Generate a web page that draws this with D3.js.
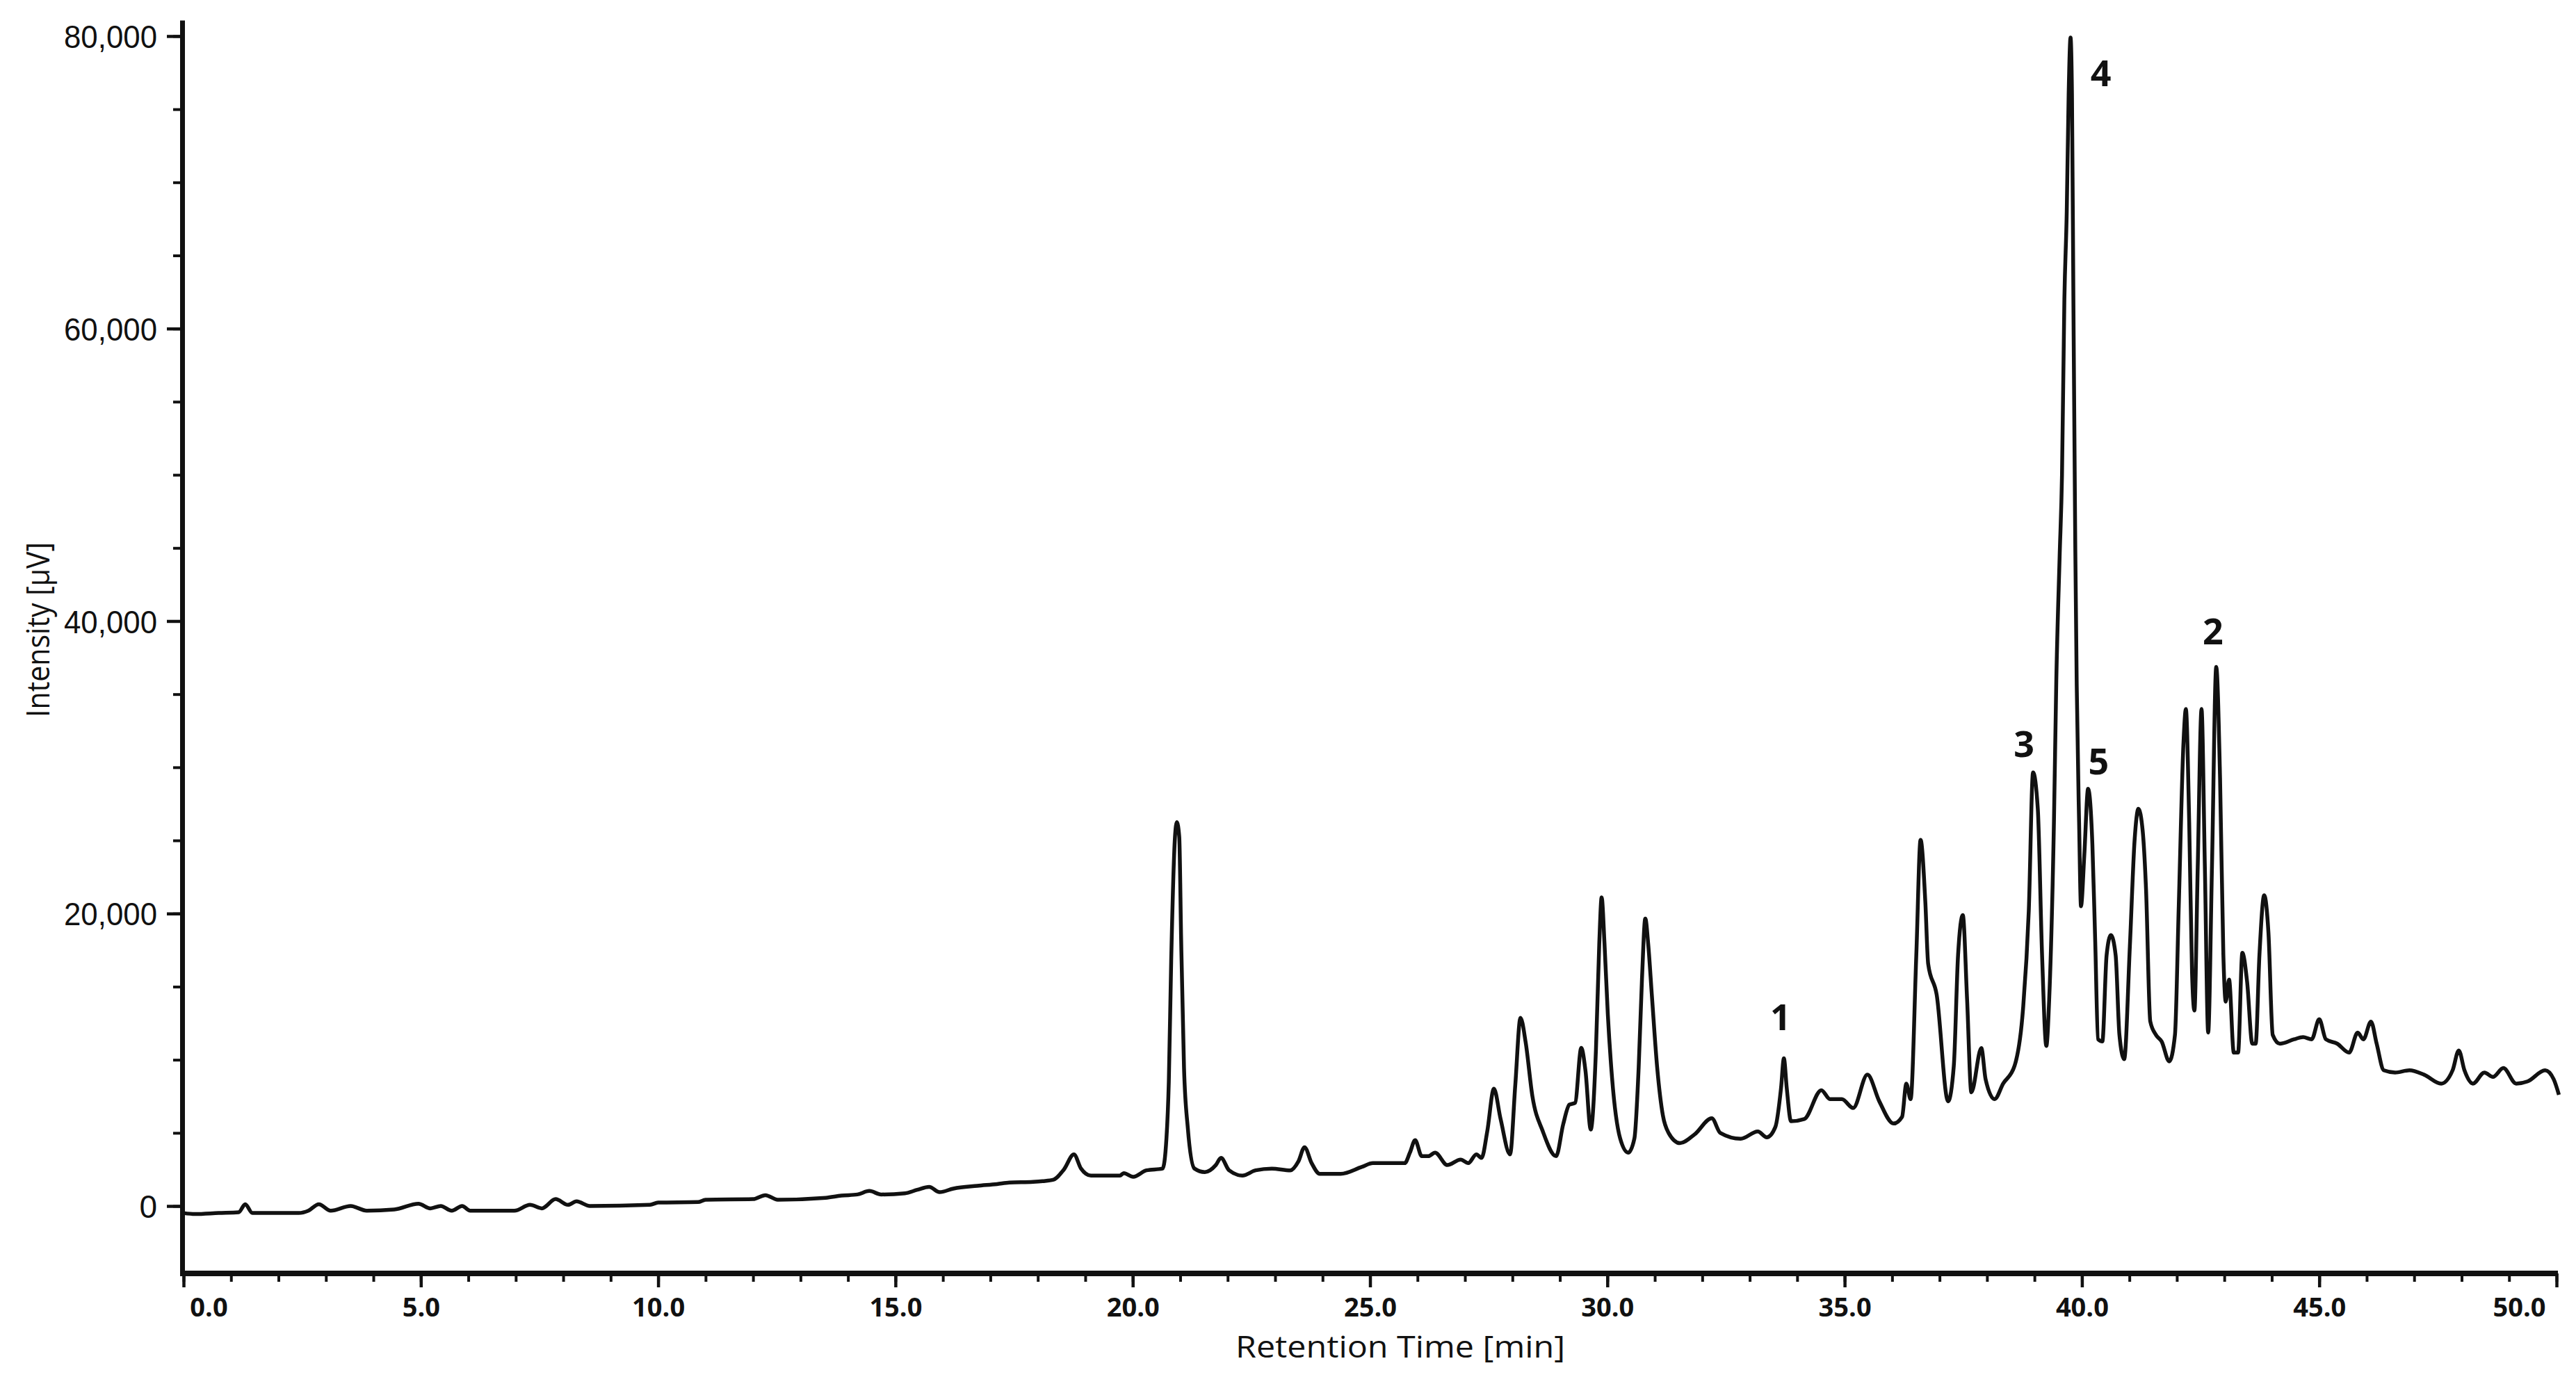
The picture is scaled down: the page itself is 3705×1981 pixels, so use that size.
<!DOCTYPE html>
<html><head><meta charset="utf-8">
<script src="https://cdn.jsdelivr.net/npm/d3@7"></script>
<style>html,body{margin:0;padding:0;background:#fff;}svg{display:block;}</style>
</head><body>
<script>
// ---- data ----
const retentionTime = [0.0,0.24,0.74,1.16,1.3,1.45,2.43,2.63,2.85,3.1,3.52,3.86,4.44,4.95,5.2,5.42,5.65,5.87,6.04,6.97,7.3,7.55,7.84,8.1,8.28,8.56,9.83,10.0,10.84,11.0,12.0,12.26,12.52,13.53,13.86,14.2,14.45,14.7,15.2,15.46,15.71,15.93,16.22,16.72,17.14,17.4,17.9,18.1,18.33,18.55,18.76,18.91,19.12,19.73,19.81,20.01,20.29,20.63,20.71,20.76,20.81,20.89,20.93,20.98,21.02,21.08,21.16,21.3,21.52,21.75,21.86,22.03,22.31,22.59,22.93,23.32,23.49,23.62,23.77,23.94,24.38,24.83,25.06,25.5,25.73,25.84,25.95,26.09,26.23,26.37,26.63,26.91,27.07,27.24,27.35,27.47,27.61,27.75,27.95,28.06,28.17,28.28,28.42,28.64,28.92,29.07,29.2,29.32,29.45,29.54,29.65,29.76,29.83,29.88,29.94,30.01,30.1,30.27,30.44,30.57,30.66,30.73,30.8,30.86,30.94,31.05,31.17,31.29,31.53,31.84,32.2,32.38,32.81,33.17,33.36,33.54,33.66,33.72,33.78,33.87,34.15,34.51,34.69,34.94,35.18,35.48,35.73,36.03,36.21,36.3,36.39,36.51,36.6,36.7,36.76,36.94,37.18,37.3,37.39,37.49,37.58,37.67,37.88,37.97,38.16,38.34,38.58,38.76,38.88,38.97,39.07,39.16,39.25,39.31,39.41,39.46,39.53,39.58,39.63,39.68,39.72,39.76,39.79,39.82,39.86,39.89,39.94,39.98,40.05,40.13,40.22,40.28,40.34,40.43,40.52,40.61,40.71,40.79,40.89,41.01,41.11,41.19,41.28,41.35,41.44,41.56,41.68,41.84,41.96,42.04,42.14,42.19,42.26,42.32,42.37,42.44,42.52,42.59,42.66,42.74,42.83,42.91,42.98,43.03,43.1,43.2,43.29,43.38,43.48,43.59,43.66,43.74,43.84,43.93,44.02,44.17,44.47,44.66,44.84,45.0,45.14,45.38,45.63,45.81,45.93,46.09,46.21,46.36,46.6,46.9,47.21,47.57,47.81,47.94,48.06,48.24,48.48,48.66,48.88,49.15,49.39,49.76,49.94,50.05];
const intensity = [-480,-550,-480,-430,120,-480,-480,-320,120,-320,0,-320,-240,160,-160,0,-320,0,-320,-320,80,-160,470,80,320,0,80,240,270,430,470,740,430,560,710,790,1030,790,870,1110,1310,950,1190,1380,1500,1600,1650,1700,1800,2500,3530,2560,2080,2080,2250,2000,2440,2560,4620,8500,16750,25240,26250,25240,18200,9470,5350,2560,2320,2800,3290,2440,2080,2440,2560,2440,3050,4020,2930,2200,2200,2680,2930,2930,2930,3650,4500,3410,3410,3650,2800,3170,2930,3530,3290,5110,8020,5960,3530,8260,12870,11170,7530,5110,3410,5590,6930,7050,10810,9230,5230,10690,17960,21110,17960,13110,8740,4620,3650,4620,9470,15535,19660,17960,14320,9470,6200,5000,4300,4900,6000,5000,4600,5100,4700,5400,8070,10100,8070,5800,5950,7920,7310,7310,6700,8980,7160,5640,6100,8370,7310,17160,25040,20800,16560,14430,7160,9580,17160,19890,14130,7770,10800,8670,7310,8370,9580,13520,20190,29650,27160,17160,10950,14130,26250,35950,44400,50000,62000,68000,76000,79900,76000,62000,45000,35650,26250,20500,24000,28530,24740,18070,11400,11250,17160,18530,17160,11700,10040,17770,25040,27160,25650,21710,12620,11700,11250,9890,11700,20500,31710,33980,26250,15950,13370,23220,33980,23220,11860,23220,36860,29290,17160,13980,15490,10490,10490,17310,15340,11100,11100,17160,21250,18680,11700,11100,11400,11550,11400,12770,11400,11100,10490,11860,11400,12610,11100,9280,9130,9280,8980,8370,9280,10640,9280,8370,9130,8830,9430,8370,8520,9280,8670,7610];

const xMajorTicks = [0,5,10,15,20,25,30,35,40,45,50];
const xMinorTicks = d3.range(0, 51, 1);
const yMajorTicks = [0,20000,40000,60000,80000];
const yMinorTicks = d3.range(0, 80001, 5000);

const peakLabels = ["1","3","5","2","4"];
const peakLabelTime = [33.65, 38.78, 40.35, 42.76, 40.4];
const peakLabelIntensity = [12930, 31610, 30420, 39300, 77470];

const xTitle = "Retention Time [min]";
const yTitle = "Intensity [µV]";

// ---- layout ----
const W = 3705, H = 1981;
const svg = d3.select("body").append("svg").attr("width", W).attr("height", H)
  .style("background", "#fff");

const x = d3.scaleLinear().domain([0, 50]).range([264, 3677]);
const y = d3.scaleLinear().domain([-4610, 81090]).range([1832, 29]);

const data = retentionTime.map((t, i) => [t, intensity[i]]);

// trace
const line = d3.line().x(d => x(d[0])).y(d => y(d[1])).curve(d3.curveMonotoneX);
svg.append("path").datum(data).attr("d", line)
  .attr("fill", "none").attr("stroke", "#111").attr("stroke-width", 5.5)
  .attr("stroke-linejoin", "round");

// x axis (minor then major)
const xAxisY = 1832;
const gxMinor = svg.append("g").attr("transform", `translate(0,${xAxisY})`)
  .call(d3.axisBottom(x).tickValues(xMinorTicks).tickSize(12).tickSizeOuter(0).tickFormat(""));
gxMinor.select(".domain").remove();
gxMinor.selectAll("line").attr("stroke", "#111").attr("stroke-width", 4);

const gx = svg.append("g").attr("transform", `translate(0,${xAxisY})`)
  .call(d3.axisBottom(x).tickValues(xMajorTicks).tickSize(20).tickSizeOuter(0).tickFormat(d3.format(".1f")));
gx.select(".domain").attr("stroke", "#111").attr("stroke-width", 8)
  .attr("d", `M${x(0)-5},0H${x(50)+2}`);
gx.selectAll(".tick line").attr("stroke", "#111").attr("stroke-width", 4.5);
gx.selectAll(".tick text")
  .attr("y", 49).attr("dy", "0.35em")
  .attr("fill", "#111")
  .style("font-family", "'Open Sans', sans-serif").style("font-weight", "700").style("font-size", "38px")
  .attr("dx", d => d === 0 ? 36 : (d === 50 ? -54 : 0));

// y axis (minor then major)
const yAxisX = 262;
const gyMinor = svg.append("g").attr("transform", `translate(${yAxisX},0)`)
  .call(d3.axisLeft(y).tickValues(yMinorTicks).tickSize(13).tickSizeOuter(0).tickFormat(""));
gyMinor.select(".domain").remove();
gyMinor.selectAll("line").attr("stroke", "#111").attr("stroke-width", 4);

const gy = svg.append("g").attr("transform", `translate(${yAxisX},0)`)
  .call(d3.axisLeft(y).tickValues(yMajorTicks).tickSize(22).tickPadding(14).tickSizeOuter(0).tickFormat(d3.format(",")));
gy.select(".domain").attr("stroke", "#111").attr("stroke-width", 7);
gy.selectAll(".tick line").attr("stroke", "#111").attr("stroke-width", 4.5);
gy.selectAll(".tick text")
  .attr("fill", "#111")
  .style("font-family", "'Liberation Sans', Arial, sans-serif").style("font-size", "46px")
  .attr("dy", "0.36em")
  .each(function(d) {
    if (d !== 0) d3.select(this).attr("textLength", 134).attr("lengthAdjust", "spacingAndGlyphs");
  });

// axis titles
svg.append("text").text(xTitle)
  .attr("x", 2014).attr("y", 1938).attr("dy", "0.35em").attr("text-anchor", "middle")
  .attr("textLength", 474).attr("lengthAdjust", "spacingAndGlyphs")
  .attr("fill", "#111")
  .style("font-family", "'Open Sans', sans-serif").style("font-size", "44px");

svg.append("text").text(yTitle)
  .attr("transform", "translate(55,906) rotate(-90)")
  .attr("dy", "0.35em").attr("text-anchor", "middle")
  .attr("textLength", 252).attr("lengthAdjust", "spacingAndGlyphs")
  .attr("fill", "#111")
  .style("font-family", "'Open Sans', sans-serif").style("font-size", "46px");

// peak labels
svg.selectAll("text.peak").data(peakLabels).enter().append("text")
  .attr("class", "peak")
  .attr("x", (d, i) => x(peakLabelTime[i]))
  .attr("y", (d, i) => y(peakLabelIntensity[i]))
  .attr("dy", "0.36em").attr("text-anchor", "middle")
  .attr("fill", "#111")
  .style("font-family", "'Open Sans', sans-serif").style("font-weight", "700").style("font-size", "52px")
  .text(d => d);
</script>
</body></html>
